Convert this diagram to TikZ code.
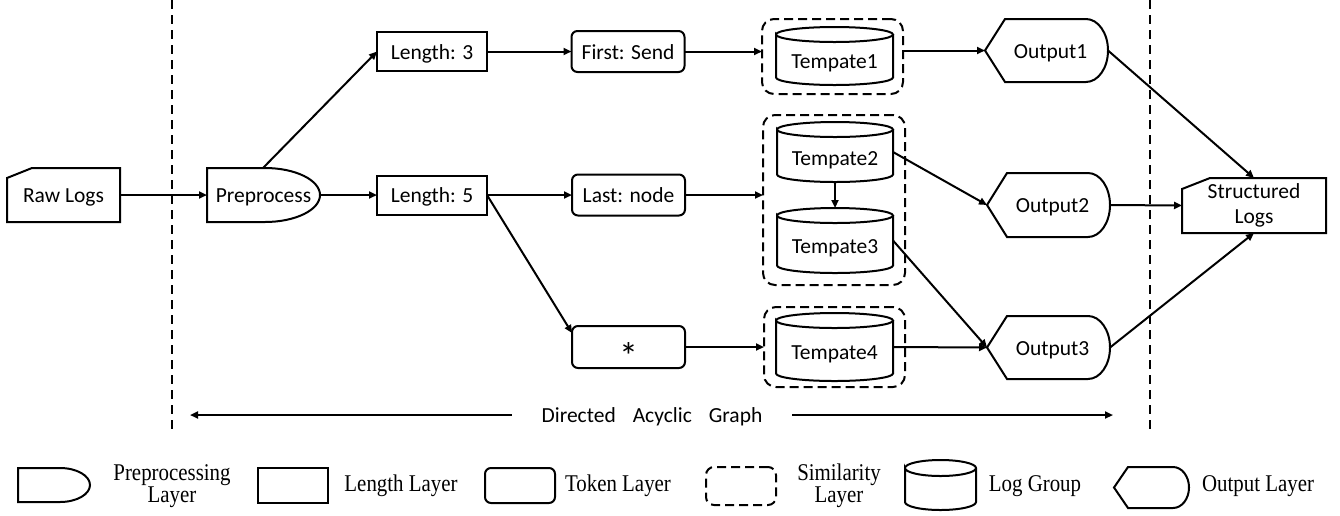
\documentclass[tikz,border=0pt]{standalone}
\usepackage{fontspec}
\usepackage{graphicx}
\setmainfont{Carlito}
\newfontfamily\legendfont{Liberation Serif}
\usetikzlibrary{arrows.meta}
\newcommand\sq[1]{\scalebox{0.87}[1]{#1}}
\newcommand\drawcyl[3]{%
  \draw[outline] ([yshift=-#3]#1.north west) arc[start angle=180,end angle=-180,x radius=#2,y radius=#3]
    -- ([yshift=#3]#1.south west) arc[start angle=180,end angle=360,x radius=#2,y radius=#3]
    -- ([yshift=-#3]#1.north east);}
\newcommand\drawout[4]{%
  \draw[outline] (#1.west) -- ([xshift=#2]#1.north west) -- ([xshift=-#3]#1.north east)
    arc[start angle=90,end angle=-90,x radius=#3,y radius=#4] -- ([xshift=#2]#1.south west) -- cycle;}
\tikzset{
  base/.style={inner sep=0pt, outer sep=0pt, font=\fontsize{21.5}{25}\selectfont, text height=17pt, text depth=2pt},
  outline/.style={draw, line width=2pt, line join=miter},
  rectbox/.style={base, draw, line width=2pt, minimum width=110pt, minimum height=39pt},
  roundbox/.style={base, draw, line width=2pt, rounded corners=6pt, minimum width=113pt, minimum height=41pt},
  simbox/.style={draw, line width=2pt, dash pattern=on 9pt off 5pt, rounded corners=12pt, inner sep=0pt, outer sep=0pt},
  edge/.style={line width=2pt, -{Triangle[length=8pt,width=7pt]}},
  sep/.style={line width=2pt, dash pattern=on 9pt off 6pt},
  legtext/.style={inner sep=0pt, font=\legendfont\fontsize{24}{22}\selectfont, align=center},
  shapebox/.style={base, draw=none},
}
\begin{document}
\begin{tikzpicture}[x=1pt,y=-1pt]
\useasboundingbox (0,0) rectangle (1340,515);

% separators
\coordinate (v1t) at (172,0); \coordinate (v1b) at (172,430);
\coordinate (v2t) at (1150,0); \coordinate (v2b) at (1150,430);
\draw[sep] (v1t) -- (v1b);
\draw[sep] (v2t) -- (v2b);

% raw logs
\node[shapebox, minimum width=113pt, minimum height=54pt] (raw) at (63.5,195) {Raw Logs};
\draw[outline] (raw.south west) -- (raw.south east) -- (raw.north east) -- ([xshift=25pt]raw.north west) -- ([yshift=-10pt]raw.north west) -- cycle;

% preprocess
\node[shapebox, minimum width=113pt, minimum height=54pt] (pre) at (263.5,195) {Preprocess};
\draw[outline] (pre.north west) -- ([xshift=-55pt]pre.north east) arc[start angle=90,end angle=-90,x radius=55pt,y radius=27pt] -- (pre.south west) -- cycle;

% length layer
\node[rectbox] (len3) at (432,51.5) {Length: 3};
\node[rectbox] (len5) at (432,195) {Length: 5};

% token layer
\node[roundbox] (first) at (628,51.5) {First: Send};
\node[roundbox] (last) at (628.5,195) {Last: node};
\node[roundbox, minimum height=42pt] (star) at (628.5,347) {};
\node[inner sep=0pt, anchor=base, font=\fontsize{38}{38}\selectfont] (startxt) at (628.5,369) {*};

% similarity boxes
\node[simbox, minimum width=141pt, minimum height=75pt] (s1) at (832.5,56.5) {};
\node[simbox, minimum width=142pt, minimum height=170pt] (s2) at (834,200) {};
\node[simbox, minimum width=141pt, minimum height=80pt] (s3) at (834.5,347) {};

% log groups
\node[shapebox, minimum width=117pt, minimum height=58pt] (t1) at (834.5,56) {};
\node[base] (t1txt) at ([yshift=-5pt]t1.center) {Tempate1};
\drawcyl{t1}{58.5pt}{7.5pt}
\node[shapebox, minimum width=116pt, minimum height=60pt] (t2) at (835,152) {};
\node[base] (t2txt) at ([yshift=-6pt]t2.center) {Tempate2};
\drawcyl{t2}{58pt}{7.5pt}
\node[shapebox, minimum width=116pt, minimum height=65pt] (t3) at (835,240.5) {};
\node[base] (t3txt) at ([yshift=-5pt]t3.center) {Tempate3};
\drawcyl{t3}{58pt}{7.5pt}
\node[shapebox, minimum width=117pt, minimum height=68pt] (t4) at (834.5,347) {};
\node[base] (t4txt) at ([yshift=-5pt]t4.center) {Tempate4};
\drawcyl{t4}{58.5pt}{7.5pt}

% outputs
\node[shapebox, minimum width=123pt, minimum height=63pt] (out1) at (1046.5,50.5) {\hspace*{8pt}Output1};
\drawout{out1}{20pt}{22pt}{31.5pt}
\node[shapebox, minimum width=123pt, minimum height=64pt] (out2) at (1048.5,205) {\hspace*{8pt}Output2};
\drawout{out2}{20pt}{22pt}{32pt}
\node[shapebox, minimum width=123pt, minimum height=63pt] (out3) at (1048.5,347.5) {\hspace*{8pt}Output3};
\drawout{out3}{20pt}{22pt}{31.5pt}

% structured logs
\node[inner sep=0pt, outer sep=0pt, font=\fontsize{21.5}{25}\selectfont, align=center, minimum width=144pt, minimum height=55pt] (sl) at (1254,205.5) {Structured\\Logs};
\draw[outline] (sl.south west) -- (sl.south east) -- (sl.north east) -- ([xshift=28pt]sl.north west) -- ([yshift=-11pt]sl.north west) -- cycle;

% edges
\draw[edge] (raw) -- (pre);
\draw[edge] ([xshift=56pt]pre.north west) -- (len3.west);
\draw[edge] (pre.east) -- (len5.west);
\draw[edge] (len3) -- (first);
\draw[edge] (first.east) -- (first.east -| s1.west);
\draw[edge] (s1.east |- out1.west) -- (out1.west);
\draw[edge] (len5) -- (last);
\draw[edge] (len5.east) -- ([yshift=-7pt]star.north west);
\draw[edge] (last.east) -- (last.east -| s2.west);
\draw[edge] (star.east) -- (star.east -| s3.west);
\draw[edge] (t2.south) -- (t3.north);
\draw[edge] (t2.east) -- (out2.west);
\draw[edge] (t3.east) -- (out3.west);
\draw[edge] (t4.east) -- (out3.west);
\draw[edge] (out1.east) -- (sl.north);
\draw[edge] (out2.east) -- (sl.west);
\draw[edge] (out3.east) -- (sl.south);

% DAG
\node[base] (dag) at (652,415) {Directed\hspace{17pt}Acyclic\hspace{17pt}Graph};
\coordinate (dagl) at (190,415);
\coordinate (dagr) at (1113,415);
\draw[edge] ([xshift=-30pt]dag.west) -- (dagl);
\draw[edge] ([xshift=30pt]dag.east) -- (dagr);

% legend
\node[shapebox, minimum width=72pt, minimum height=34pt] (lpre) at (54,485) {};
\draw[outline] (lpre.north west) -- ([xshift=-30pt]lpre.north east) arc[start angle=90,end angle=-90,x radius=30pt,y radius=17pt] -- (lpre.south west) -- cycle;
\node[legtext] (lpretxt) at (172,486) {\sq{Preprocessing}\\\sq{Layer}};

\node[draw, line width=2pt, minimum width=70pt, minimum height=35pt, inner sep=0pt] (llen) at (293,485.5) {};
\node[legtext] (llentxt) at (401,486) {\sq{Length Layer}};

\node[draw, line width=2pt, rounded corners=6pt, minimum width=70pt, minimum height=35pt, inner sep=0pt] (ltok) at (520,485.5) {};
\node[legtext] (ltoktxt) at (618,486) {\sq{Token Layer}};

\node[simbox, minimum width=70pt, minimum height=38pt, rounded corners=8pt] (lsim) at (741,486) {};
\node[legtext] (lsimtxt) at (839,486) {\sq{Similarity}\\\sq{Layer}};

\node[shapebox, minimum width=71pt, minimum height=50pt] (llog) at (940.5,485) {};
\drawcyl{llog}{35.5pt}{8pt}
\node[legtext] (llogtxt) at (1035,486) {\sq{Log Group}};

\node[shapebox, minimum width=75pt, minimum height=41pt] (lout) at (1151.5,487.5) {};
\drawout{lout}{14pt}{16pt}{20.5pt}
\node[legtext] (louttxt) at (1258,486) {\sq{Output Layer}};
\end{tikzpicture}
\end{document}
